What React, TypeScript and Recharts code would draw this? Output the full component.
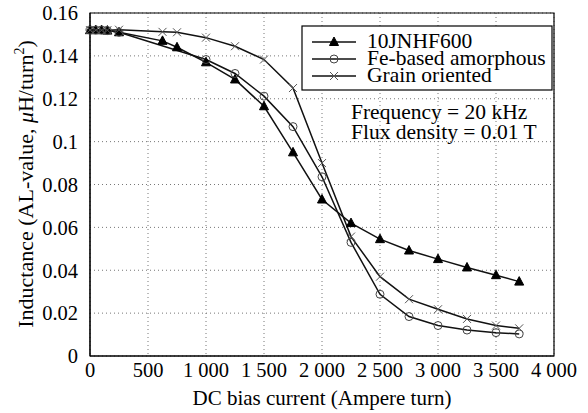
import React from 'react';
import { LineChart, Line, XAxis, YAxis, CartesianGrid, ReferenceArea } from 'recharts';

const triX = [0, 50, 100, 150, 250, 625, 750, 1000, 1250, 1500, 1750, 2000, 2250, 2500, 2750, 3000, 3250, 3500, 3700];
const triY = [0.152, 0.152, 0.152, 0.1518, 0.151, 0.147, 0.144, 0.137, 0.129, 0.1165, 0.095, 0.073, 0.062, 0.0545, 0.0492, 0.0452, 0.0413, 0.0377, 0.0347];

const amoX = [0, 50, 100, 150, 250, 1000, 1250, 1500, 1750, 2000, 2250, 2500, 2750, 3000, 3250, 3500, 3700];
const amoY = [0.152, 0.152, 0.152, 0.1518, 0.151, 0.1383, 0.1318, 0.1212, 0.107, 0.0836, 0.053, 0.0288, 0.0184, 0.0142, 0.0121, 0.0109, 0.0103];

const grainX = [0, 50, 100, 150, 250, 625, 750, 1000, 1250, 1500, 1750, 2000, 2250, 2500, 2750, 3000, 3250, 3500, 3700];
const grainY = [0.152, 0.152, 0.152, 0.152, 0.1522, 0.1512, 0.151, 0.1485, 0.1445, 0.1383, 0.125, 0.09, 0.0557, 0.037, 0.0265, 0.0218, 0.0173, 0.0142, 0.0129];

const xTicks = [0, 500, 1000, 1500, 2000, 2500, 3000, 3500, 4000];
const yTicks = [0, 0.02, 0.04, 0.06, 0.08, 0.1, 0.12, 0.14, 0.16];

const FONT = 'Liberation Serif, serif';

const toPts = (xs: number[], ys: number[]) => xs.map((x, i) => ({ x, y: ys[i] }));

const fmtX = (v: number) => (v >= 1000 ? `${Math.floor(v / 1000)} ${String(v % 1000).padStart(3, '0')}` : String(v));

// marker shapes
const TriDot = (p: any) => {
  const { cx, cy } = p;
  if (cx == null || cy == null) return null;
  return <path d={`M${cx},${cy - 5} L${cx + 4.5},${cy + 3.5} L${cx - 4.5},${cy + 3.5} Z`} fill="#000" stroke="#000" />;
};
const CircDot = (p: any) => {
  const { cx, cy } = p;
  if (cx == null || cy == null) return null;
  return <circle cx={cx} cy={cy} r={4} fill="none" stroke="#444" strokeWidth={1} />;
};
const XDot = (p: any) => {
  const { cx, cy } = p;
  if (cx == null || cy == null) return null;
  return (
    <path d={`M${cx - 4},${cy - 4} L${cx + 4},${cy + 4} M${cx - 4},${cy + 4} L${cx + 4},${cy - 4}`} stroke="#555" strokeWidth={1} />
  );
};

export default function App() {
  return (
    <div style={{ position: 'absolute', left: 0, top: 0, width: 588, height: 413, background: '#fff', fontFamily: FONT }}>
      <LineChart width={588} height={413} margin={{ top: 13, right: 34, left: 0, bottom: 0 }} style={{ fontFamily: FONT }}>
        <CartesianGrid stroke="#777" strokeDasharray="1 3" />
        <XAxis
          type="number"
          dataKey="x"
          domain={[0, 4000]}
          ticks={xTicks}
          tickFormatter={fmtX}
          height={57}
          tickLine={false}
          tickSize={0}
          tickMargin={6}
          stroke="#000"
          tick={{ fill: '#000', fontSize: 20.5, fontFamily: FONT }}
          label={{ value: 'DC bias current (Ampere turn)', position: 'insideBottom', offset: 8, fill: '#000', fontSize: 21, fontFamily: FONT }}
        />
        <YAxis
          type="number"
          domain={[0, 0.16]}
          ticks={yTicks}
          width={90}
          tickLine={false}
          tickSize={0}
          tickMargin={12}
          stroke="#000"
          tick={{ fill: '#000', fontSize: 20.5, fontFamily: FONT }}
        />
        <ReferenceArea x1={0} x2={4000} y1={0} y2={0.16} fill="none" fillOpacity={0} stroke="#000" strokeWidth={1.2} />
        <Line data={toPts(triX, triY)} dataKey="y" stroke="#111" strokeWidth={1.5} dot={<TriDot />} isAnimationActive={false} />
        <Line data={toPts(amoX, amoY)} dataKey="y" stroke="#111" strokeWidth={1.5} dot={<CircDot />} isAnimationActive={false} />
        <Line data={toPts(grainX, grainY)} dataKey="y" stroke="#111" strokeWidth={1.5} dot={<XDot />} isAnimationActive={false} />
      </LineChart>
      <svg width={588} height={413} style={{ position: 'absolute', left: 0, top: 0, pointerEvents: 'none', fontFamily: FONT }}>
        <text transform="translate(33,184) rotate(-90)" textAnchor="middle" fontSize={22} fill="#000">
          Inductance (AL-value, <tspan fontStyle="italic">μ</tspan>H/turn<tspan fontSize={14} dy={-9}>2</tspan><tspan dy={9}>)</tspan>
        </text>
        <rect x={302} y={26} width={250} height={64} fill="#fff" stroke="#000" strokeWidth={1.2} />
        <line x1={312} y1={42} x2={356} y2={42} stroke="#111" strokeWidth={1.5} />
        <TriDot cx={334} cy={42} />
        <line x1={312} y1={59} x2={356} y2={59} stroke="#111" strokeWidth={1.5} />
        <CircDot cx={334} cy={59} />
        <line x1={312} y1={76} x2={356} y2={76} stroke="#111" strokeWidth={1.5} />
        <XDot cx={334} cy={76} />
        <g fontSize={21.5} fill="#000">
          <text x={367} y={48}>10JNHF600</text>
          <text x={367} y={65}>Fe-based amorphous</text>
          <text x={367} y={82}>Grain oriented</text>
        </g>
        <g fontSize={21.5} fill="#000">
          <text x={351} y={119}>Frequency = 20 kHz</text>
          <text x={351} y={139}>Flux density = 0.01 T</text>
        </g>
      </svg>
    </div>
  );
}
